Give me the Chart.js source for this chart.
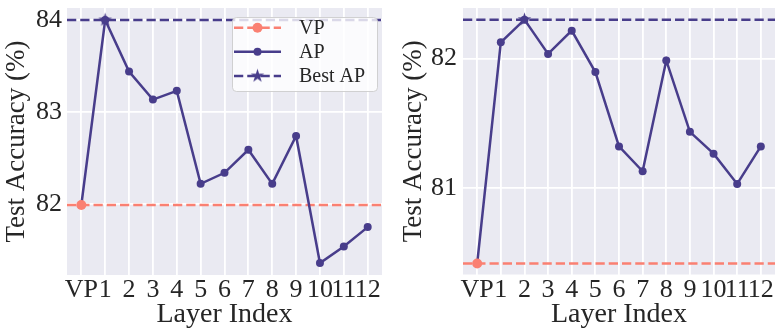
<!DOCTYPE html>
<html><head><meta charset="utf-8">
<script src="https://cdn.jsdelivr.net/npm/chart.js@4.4.0/dist/chart.umd.min.js"></script>
<style>
html,body{margin:0;padding:0;background:#fff;}
#wrap{position:relative;width:783px;height:329px;overflow:hidden;}
.c{position:absolute;top:0;height:329px;}
canvas{display:block;}
</style></head><body>
<div id="wrap">
<div class="c" style="left:0;width:390px"><canvas id="c1" width="390" height="329"></canvas></div>
<div class="c" style="left:390px;width:393px"><canvas id="c2" width="393" height="329"></canvas></div>
</div>
<script>
// ---- data ----
const categories = ['VP','1','2','3','4','5','6','7','8','9','10','11','12'];
const leftVP = 81.99;
const leftAP = [84.0, 83.44, 83.135, 83.23, 82.22, 82.34, 82.59, 82.22, 82.74, 81.36, 81.54, 81.75];
const rightVP = 80.415;
const rightAP = [82.125, 82.30, 82.035, 82.215, 81.895, 81.32, 81.128, 81.985, 81.433, 81.264, 81.03, 81.32];
const leftYTicks = [82, 83, 84];
const rightYTicks = [81, 82];
const legendLabels = ['VP', 'AP', 'Best AP'];

// ---- styles ----
const FONT = '"Liberation Serif", "Times New Roman", serif';
const TEXT = '#262626';
const PURPLE = '#483D8B';
const SALMON = '#FA8072';
const BG = '#EAEAF2';
const DASH = [9.25, 4];
const XMIN = -0.6, XMAX = categories.length - 1 + 0.6;

function makeStar(R, color) {
  const s = Math.ceil(R * 2 + 2);
  const c = document.createElement('canvas');
  c.width = s; c.height = s;
  const g = c.getContext('2d');
  g.fillStyle = color;
  g.beginPath();
  const cx = s / 2, cy = s / 2, r = R * 0.381966;
  for (let i = 0; i < 10; i++) {
    const a = -Math.PI / 2 + i * Math.PI / 5;
    const rr = i % 2 ? r : R;
    g.lineTo(cx + rr * Math.cos(a), cy + rr * Math.sin(a));
  }
  g.closePath(); g.fill();
  return c;
}
const starImg = makeStar(7.2, PURPLE);

const bgPlugin = {
  id: 'bg',
  beforeDraw(chart) {
    const {ctx, chartArea: a} = chart;
    ctx.save();
    ctx.fillStyle = BG;
    ctx.fillRect(a.left, a.top, a.right - a.left, a.bottom - a.top);
    ctx.restore();
  }
};

const legendPlugin = {
  id: 'customLegend',
  afterDraw(chart) {
    const ctx = chart.ctx;
    const bx = 232, by = 17, bw = 145, bh = 74, rad = 4;
    ctx.save();
    ctx.beginPath();
    ctx.roundRect(bx + 0.5, by + 0.5, bw, bh, rad);
    ctx.fillStyle = 'rgba(255,255,255,0.8)';
    ctx.fill();
    ctx.strokeStyle = 'rgba(204,204,204,0.9)';
    ctx.lineWidth = 1;
    ctx.stroke();
    const rows = [27.7, 51.7, 76];
    const hx0 = 234, hx1 = 281, hc = (hx0 + hx1) / 2;
    const styles = [
      {color: SALMON, dash: DASH, marker: 'circle', r: 5},
      {color: PURPLE, dash: [], marker: 'circle', r: 4},
      {color: PURPLE, dash: DASH, marker: 'star'}
    ];
    styles.forEach((s, i) => {
      const y = rows[i];
      ctx.beginPath();
      ctx.setLineDash(s.dash);
      ctx.strokeStyle = s.color;
      ctx.lineWidth = 2.5;
      ctx.moveTo(hx0, y); ctx.lineTo(hx1, y);
      ctx.stroke();
      ctx.setLineDash([]);
      if (s.marker === 'circle') {
        ctx.beginPath();
        ctx.fillStyle = s.color;
        ctx.arc(hc, y, s.r, 0, Math.PI * 2);
        ctx.fill();
      } else {
        ctx.drawImage(starImg, hc - starImg.width / 2, y - starImg.height / 2);
      }
      ctx.fillStyle = TEXT;
      ctx.font = '20px ' + FONT;
      ctx.textBaseline = 'middle';
      ctx.textAlign = 'left';
      ctx.fillText(legendLabels[i], 299, y + 1);
    });
    ctx.restore();
  }
};

function makeChart(id, cfg) {
  const canvas = document.getElementById(id);
  const W = canvas.width, H = canvas.height;
  const apSeries = [cfg.vp].concat(cfg.ap);
  const best = Math.max(...cfg.ap);
  const bestIdx = cfg.ap.indexOf(best) + 1;
  const datasets = [
    { // star marker
      data: [{x: bestIdx, y: best}],
      showLine: false, pointStyle: starImg, pointRadius: 7,
      borderColor: PURPLE, backgroundColor: PURPLE
    },
    { // VP marker
      data: [{x: 0, y: cfg.vp}],
      showLine: false, pointStyle: 'circle', pointRadius: 5, pointBorderWidth: 0,
      backgroundColor: SALMON, borderColor: SALMON
    },
    { // AP line
      data: apSeries.map((v, i) => ({x: i, y: v})),
      showLine: true,
      borderColor: PURPLE, backgroundColor: PURPLE, borderWidth: 2.5,
      pointRadius: 4, pointBorderWidth: 0, tension: 0
    },
    { // VP hline
      data: [{x: XMIN, y: cfg.vp}, {x: XMAX, y: cfg.vp}],
      showLine: true,
      borderColor: SALMON, borderWidth: 2.5, borderDash: DASH, pointRadius: 0
    },
    { // Best AP hline
      data: [{x: XMIN, y: best}, {x: XMAX, y: best}],
      showLine: true,
      borderColor: PURPLE, borderWidth: 2.5, borderDash: DASH, pointRadius: 0
    }
  ];
  const plugins = [bgPlugin];
  if (cfg.legend) plugins.push(legendPlugin);
  return new Chart(canvas, {
    type: 'scatter',
    data: {datasets},
    plugins,
    options: {
      responsive: false, animation: false, devicePixelRatio: 1,
      layout: {padding: {left: 0, right: W - cfg.plotRight, top: cfg.plotTop, bottom: 0}},
      plugins: {legend: {display: false}, tooltip: {enabled: false}},
      elements: {line: {borderCapStyle: 'butt'}},
      scales: {
        x: {
          type: 'linear', min: XMIN, max: XMAX,
          afterBuildTicks: s => { s.ticks = categories.map((c, i) => ({value: i})); },
          afterFit: s => { s.height = H - cfg.plotBottom; s.paddingLeft = 0; s.paddingRight = 0; },
          ticks: {
            autoSkip: false, maxRotation: 0, minRotation: 0, padding: 0,
            color: TEXT, font: {family: FONT, size: 26},
            callback: v => categories[v]
          },
          grid: {color: '#ffffff', lineWidth: 1.8, drawTicks: false},
          border: {display: false},
          title: {display: true, text: 'Layer Index', color: TEXT,
                  font: {family: FONT, size: 28, lineHeight: 1}, padding: {top: 0, bottom: 0}}
        },
        y: {
          type: 'linear', min: cfg.yMin, max: cfg.yMax,
          afterBuildTicks: s => { s.ticks = cfg.yTicks.map(v => ({value: v})); },
          afterFit: s => { s.width = cfg.plotLeft; s.paddingTop = 0; s.paddingBottom = 0; },
          ticks: {padding: cfg.yTickPad, color: TEXT, font: {family: FONT, size: 26},
                  callback: v => String(v)},
          grid: {color: '#ffffff', lineWidth: 1.8, drawTicks: false},
          border: {display: false},
          title: {display: true, text: 'Test Accuracy (%)', color: TEXT,
                  font: {family: FONT, size: 27, lineHeight: 1}, padding: {top: cfg.yTitlePad, bottom: 0}}
        }
      }
    }
  });
}

makeChart('c1', {vp: leftVP, ap: leftAP, yMin: 81.23, yMax: 84.13, yTicks: leftYTicks,
  plotLeft: 67, plotRight: 388, plotTop: 7, plotBottom: 275, yTickPad: 5, yTitlePad: 3.5, legend: true});
makeChart('c2', {vp: rightVP, ap: rightAP, yMin: 80.33, yMax: 82.39, yTicks: rightYTicks,
  plotLeft: 73, plotRight: 393, plotTop: 7, plotBottom: 274.5, yTickPad: 6, yTitlePad: 10, legend: false});
</script>
</body></html>
